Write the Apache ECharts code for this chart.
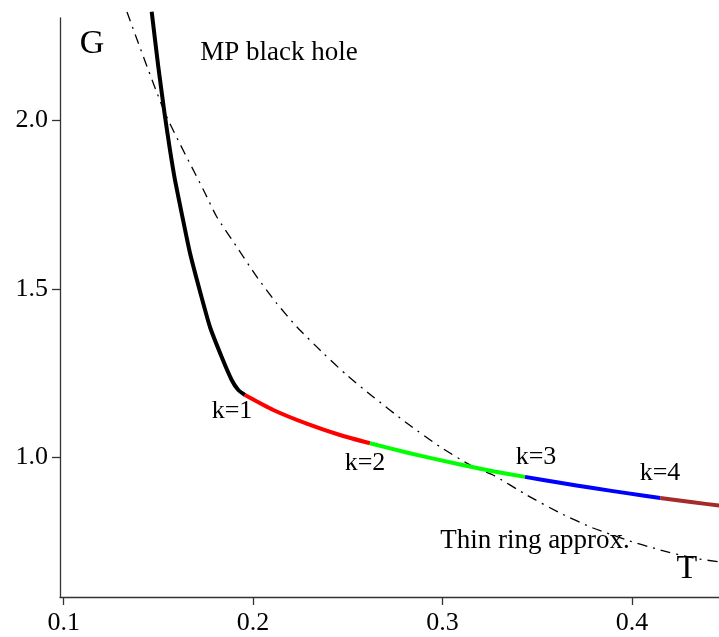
<!DOCTYPE html>
<html>
<head>
<meta charset="utf-8">
<script src="https://cdn.jsdelivr.net/npm/echarts@6/dist/echarts.min.js"></script>
<style>html,body{margin:0;padding:0;background:#fff;}#c{width:719px;height:637px;}</style>
</head>
<body>
<div id="c"></div>
<script>
// Tick labels
const xTicks = [0.1, 0.2, 0.3, 0.4];
const yTicks = [1.0, 1.5, 2.0];

// MP black hole branch (black)
const mpT = [0.14646, 0.14995, 0.15322, 0.15612, 0.15877, 0.1623, 0.16668, 0.17276, 0.17724, 0.18342, 0.1887, 0.19219, 0.19572];
const mpG = [2.3228, 2.1598, 2.0223, 1.9125, 1.8234, 1.7246, 1.6068, 1.4763, 1.3872, 1.2982, 1.23, 1.2003, 1.1855];

// k=1 (red)
const k1T = [0.19572, 0.21067, 0.2283, 0.24588, 0.26172];
const k1G = [1.1855, 1.141, 1.1005, 1.0668, 1.0421];

// k=2 (green)
const k2T = [0.26172, 0.2811, 0.29756, 0.3188, 0.32667, 0.34356];
const k2G = [1.0421, 1.015, 0.9936, 0.9681, 0.9594, 0.9425];

// k=3 (blue)
const k3T = [0.34356, 0.36204, 0.37946, 0.39726, 0.41499];
const k3G = [0.9425, 0.925, 0.9093, 0.8942, 0.88];

// k=4 (brown)
const k4T = [0.41499, 0.43226, 0.4461];
const k4G = [0.88, 0.867, 0.8573];

// Thin ring approximation (dash-dot)
const ringT = [0.13342, 0.15348, 0.1746, 0.18078, 0.19134, 0.2019, 0.21246, 0.22302, 0.2369, 0.24942, 0.26331, 0.2811, 0.29868, 0.3161, 0.32667, 0.34446, 0.36204, 0.37946, 0.39726, 0.41499, 0.43226, 0.44546];
const ringG = [2.322, 2.0223, 1.7849, 1.7145, 1.6255, 1.5365, 1.4576, 1.3881, 1.3101, 1.2448, 1.1804, 1.1024, 1.032, 0.9727, 0.9481, 0.8887, 0.8353, 0.7908, 0.7552, 0.7255, 0.7018, 0.6908];

const pairs = (xs, ys) => xs.map((x, i) => [x, ys[i]]);
const FONT = '"Liberation Serif", "Times New Roman", serif';

const chart = echarts.init(document.getElementById('c'), null, {renderer: 'canvas'});

function curve(xs, ys, color, width, type) {
  return {
    type: 'line',
    data: pairs(xs, ys),
    showSymbol: false,
    smooth: 0.2,
    clip: false,
    silent: true,
    animation: false,
    lineStyle: {color: color, width: width, type: type || 'solid', cap: 'butt', join: 'round'}
  };
}

const axisCommon = {
  axisLine: {show: true, lineStyle: {color: '#333', width: 1.3}},
  splitLine: {show: false},
};

chart.setOption({
  backgroundColor: '#fff',
  animation: false,
  grid: {left: 60, right: 0, top: 18, bottom: 40, containLabel: false},
  xAxis: Object.assign({
    type: 'value', min: 0.09805, max: 0.446,
    axisTick: {show: true, inside: false, length: 8, customValues: xTicks, lineStyle: {color: '#333', width: 1.3}},
    axisLabel: {show: true, customValues: xTicks, margin: 13, color: '#000',
      fontFamily: FONT, fontSize: 26, formatter: v => (+v).toFixed(1)}
  }, axisCommon),
  yAxis: Object.assign({
    type: 'value', min: 0.586, max: 2.3042,
    axisTick: {show: true, inside: false, length: 8, customValues: yTicks, lineStyle: {color: '#333', width: 1.3}},
    axisLabel: {show: true, customValues: yTicks, margin: 12, color: '#000',
      fontFamily: FONT, fontSize: 26, formatter: v => (+v).toFixed(1)}
  }, axisCommon),
  series: [
    curve(ringT, ringG, '#000', 1.3, [10, 6, 2, 6]),
    curve(mpT, mpG, '#000', 4),
    curve(k1T, k1G, '#ff0000', 4),
    curve(k2T, k2G, '#00ff00', 4),
    curve(k3T, k3G, '#0000ff', 4),
    curve(k4T, k4G, '#a52a2a', 4)
  ],
  graphic: [
    {type: 'text', x: 92, y: 44, style: {text: 'G', font: '34px ' + FONT, fill: '#000', align: 'center', verticalAlign: 'middle'}},
    {type: 'text', x: 279, y: 53, style: {text: 'MP black hole', font: '27px ' + FONT, fill: '#000', align: 'center', verticalAlign: 'middle'}},
    {type: 'text', x: 232, y: 411, style: {text: 'k=1', font: '26px ' + FONT, fill: '#000', align: 'center', verticalAlign: 'middle'}},
    {type: 'text', x: 365, y: 463, style: {text: 'k=2', font: '26px ' + FONT, fill: '#000', align: 'center', verticalAlign: 'middle'}},
    {type: 'text', x: 536, y: 457, style: {text: 'k=3', font: '26px ' + FONT, fill: '#000', align: 'center', verticalAlign: 'middle'}},
    {type: 'text', x: 660, y: 473, style: {text: 'k=4', font: '26px ' + FONT, fill: '#000', align: 'center', verticalAlign: 'middle'}},
    {type: 'text', x: 535, y: 541, style: {text: 'Thin ring approx.', font: '27px ' + FONT, fill: '#000', align: 'center', verticalAlign: 'middle'}},
    {type: 'text', x: 687, y: 569, style: {text: 'T', font: '34px ' + FONT, fill: '#000', align: 'center', verticalAlign: 'middle'}}
  ]
});
</script>
</body>
</html>
